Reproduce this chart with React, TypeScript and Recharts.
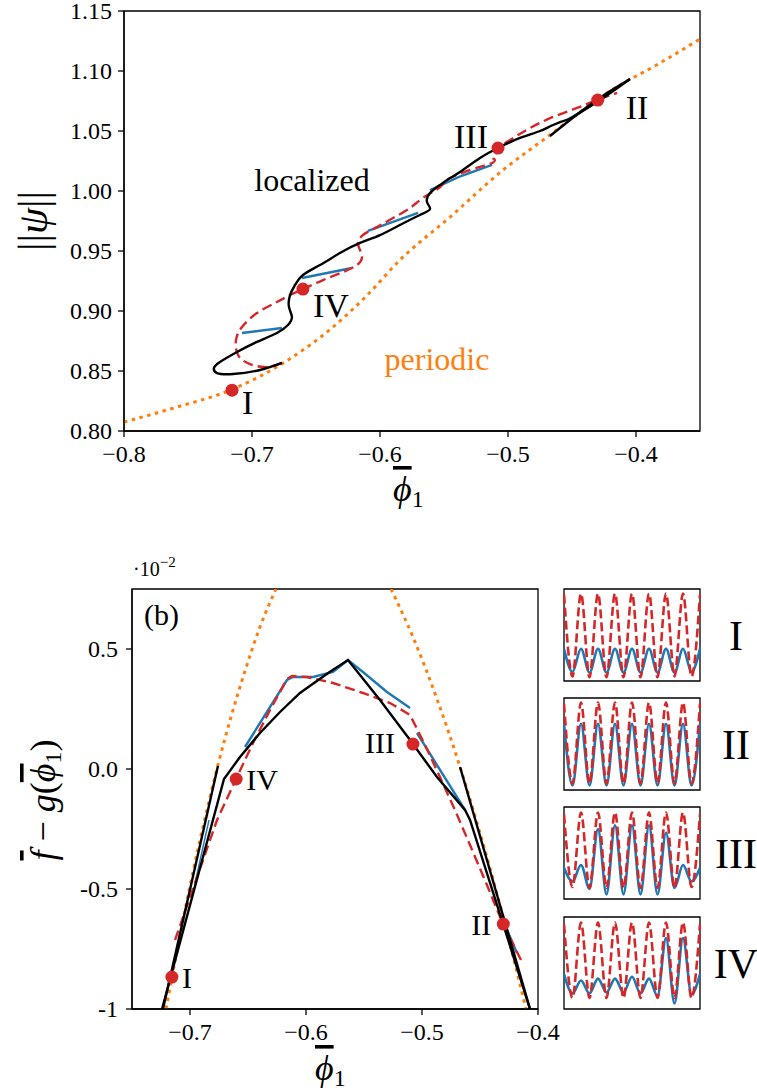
import React from 'react';
import { ComposedChart, LineChart, Line, Scatter, XAxis, YAxis, ReferenceArea } from 'recharts';

const FONT = '"Liberation Serif", "DejaVu Serif", serif';
const RED = '#d62728';
const BLUE = '#1f77b4';
const ORANGE = '#ff7f0e';

// ---- top panel: ||psi|| vs mean phi_1 ----
const topXTicks = [-0.8, -0.7, -0.6, -0.5, -0.4];
const topXTickLabels = ['−0.8', '−0.7', '−0.6', '−0.5', '−0.4'];
const topYTicks = [0.8, 0.85, 0.9, 0.95, 1.0, 1.05, 1.1, 1.15];
const topYTickLabels = ['0.80', '0.85', '0.90', '0.95', '1.00', '1.05', '1.10', '1.15'];

const periodicTopX = [-0.8, -0.7617, -0.7148, -0.6758, -0.6367, -0.6102, -0.5844, -0.5453, -0.5039, -0.4672, -0.4383, -0.4125, -0.3867, -0.35];
const periodicTopY = [0.8075, 0.819, 0.835, 0.8565, 0.8867, 0.913, 0.9425, 0.9783, 1.0175, 1.0467, 1.07, 1.0883, 1.1033, 1.1267];

// localized branch, up to the cusp and back
const localizedTopX = [-0.6766, -0.6938, -0.7148, -0.7273, -0.7297, -0.725, -0.7117, -0.6961, -0.6805, -0.6719, -0.6688, -0.6711, -0.6703, -0.6664, -0.6602, -0.6469, -0.6313, -0.6156, -0.6, -0.5844, -0.5688, -0.5609, -0.5633, -0.5609, -0.5531, -0.5453, -0.5375, -0.5219, -0.5063, -0.4906, -0.475, -0.4648, -0.4539, -0.4492, -0.4281, -0.4047];
const localizedTopY = [0.8567, 0.8508, 0.8475, 0.8483, 0.8525, 0.8575, 0.8658, 0.8742, 0.8817, 0.8883, 0.895, 0.9033, 0.9133, 0.9217, 0.93, 0.9383, 0.9483, 0.9567, 0.9633, 0.9717, 0.98, 0.985, 0.9908, 0.9983, 1.005, 1.0108, 1.0158, 1.0275, 1.0367, 1.0442, 1.05, 1.055, 1.0592, 1.0617, 1.0758, 1.0933];
const cuspReturnX = [-0.4047, -0.4227, -0.4383, -0.4516, -0.4672];
const cuspReturnY = [1.0933, 1.0817, 1.07, 1.0592, 1.0458];

const unstableTopX = [-0.6766, -0.6883, -0.7016, -0.7109, -0.7125, -0.7078, -0.6961, -0.6805, -0.6703, -0.6602, -0.6445, -0.6289, -0.618, -0.6141, -0.6156, -0.6172, -0.6133, -0.6023, -0.5898, -0.5766, -0.5664, -0.5531, -0.5477, -0.5297, -0.5125, -0.5109, -0.5117, -0.5086, -0.5078, -0.4984, -0.4828, -0.4648, -0.4461, -0.4305, -0.4148];
const unstableTopY = [0.8567, 0.8533, 0.8558, 0.8633, 0.8758, 0.8867, 0.8983, 0.9075, 0.9133, 0.9183, 0.9258, 0.9325, 0.9383, 0.9442, 0.9508, 0.9567, 0.9633, 0.97, 0.9775, 0.9858, 0.9942, 1.0033, 1.0092, 1.0175, 1.0233, 1.0267, 1.0283, 1.0325, 1.0358, 1.0425, 1.0525, 1.0617, 1.0692, 1.0758, 1.0817];

const bridgeTopX = [[-0.7078, -0.6766], [-0.6609, -0.6219], [-0.6094, -0.5703], [-0.5609, -0.5367, -0.5125], [-0.4539, -0.4305]];
const bridgeTopY = [[0.8817, 0.8858], [0.9275, 0.9358], [0.9667, 0.9817], [1.0008, 1.0125, 1.0217], [1.0592, 1.0742]];

// marked states (shared by both panels)
const stateNames = ['I', 'II', 'III', 'IV'];
const stateX = [-0.7156, -0.4299, -0.5078, -0.6602];
const stateNormY = [0.834, 1.0758, 1.0358, 0.9183];
const stateEnergyY = [-0.867, -0.646, 0.104, -0.0417];

// ---- bottom panel (b): f - g(phi_1), units of 1e-2 ----
const botXTicks = [-0.7, -0.6, -0.5, -0.4];
const botXTickLabels = ['−0.7', '−0.6', '−0.5', '−0.4'];
const botYTicks = [-1, -0.5, 0, 0.5];
const botYTickLabels = ['-1', '-0.5', '0.0', '0.5'];

const periodicLeftX = [-0.7207, -0.7, -0.6759, -0.6526, -0.6397, -0.6259];
const periodicLeftY = [-1.0, -0.4875, 0.0167, 0.4083, 0.5917, 0.75];
const periodicRightX = [-0.5267, -0.5078, -0.4871, -0.4672, -0.45, -0.4319, -0.4103];
const periodicRightY = [0.75, 0.55, 0.2917, 0.0083, -0.2667, -0.5833, -1.0];

const localizedBotX = [-0.7241, -0.6707, -0.6569, -0.6397, -0.6224, -0.6052, -0.594, -0.5793, -0.5638, -0.5362, -0.5103, -0.4871, -0.4629, -0.4586, -0.4302, -0.4069];
const localizedBotY = [-1.0, -0.0417, 0.05, 0.15, 0.2375, 0.3167, 0.355, 0.405, 0.4542, 0.2875, 0.1208, -0.0333, -0.1708, -0.2125, -0.644, -1.0];
const branchBotX = [[-0.6759, -0.7233], [-0.4672, -0.4069]];
const branchBotY = [[0.0125, -1.0], [0.0083, -1.0]];

const unstableBotX = [-0.7129, -0.6948, -0.6767, -0.6603, -0.6457, -0.631, -0.6164, -0.6121, -0.5991, -0.5767, -0.5509, -0.5276, -0.5103, -0.4974, -0.4845, -0.4716, -0.4586, -0.444, -0.4302, -0.4138];
const unstableBotY = [-0.7125, -0.4625, -0.2125, -0.0417, 0.1083, 0.2458, 0.375, 0.3875, 0.3833, 0.3583, 0.3167, 0.275, 0.225, 0.1, -0.0333, -0.1708, -0.3167, -0.4833, -0.6458, -0.8042];

const bridgeBotX = [[-0.6526, -0.6164, -0.6112, -0.594, -0.5767, -0.5638, -0.5509, -0.5302, -0.5103], [-0.5043, -0.4629], [-0.4267, -0.4181], [-0.6836, -0.6983]];
const bridgeBotY = [[0.0917, 0.3708, 0.3833, 0.3833, 0.4042, 0.4542, 0.4042, 0.3208, 0.2542], [0.15, -0.1708], [-0.6708, -0.7667], [-0.2125, -0.5333]];

// ---- profiles I-IV (extrema every half period) ----
const profileX = [0, 0.5, 1, 1.5, 2, 2.5, 3, 3.5, 4, 4.5, 5, 5.5, 6, 6.5, 7, 7.5, 8];
const profileRed = [
  [0.94, 0.05, 0.95, 0.04, 0.95, 0.04, 0.95, 0.04, 0.95, 0.04, 0.95, 0.04, 0.95, 0.05, 0.95, 0.05, 0.94],
  [0.94, 0.07, 0.95, 0.07, 0.95, 0.07, 0.95, 0.07, 0.95, 0.07, 0.95, 0.07, 0.95, 0.07, 0.95, 0.07, 0.94],
  [0.92, 0.13, 0.94, 0.12, 0.94, 0.12, 0.94, 0.12, 0.94, 0.12, 0.94, 0.12, 0.94, 0.12, 0.94, 0.13, 0.92],
  [0.92, 0.12, 0.94, 0.12, 0.94, 0.12, 0.94, 0.12, 0.94, 0.12, 0.94, 0.12, 0.94, 0.12, 0.94, 0.12, 0.92],
];
const profileBlue = [
  [0.35, 0.1, 0.35, 0.09, 0.35, 0.09, 0.35, 0.09, 0.35, 0.09, 0.35, 0.09, 0.35, 0.09, 0.35, 0.1, 0.35],
  [0.72, 0.05, 0.72, 0.05, 0.72, 0.05, 0.72, 0.05, 0.72, 0.05, 0.72, 0.05, 0.72, 0.05, 0.72, 0.05, 0.72],
  [0.34, 0.19, 0.37, 0.11, 0.76, 0.05, 0.8, 0.05, 0.8, 0.05, 0.8, 0.05, 0.72, 0.12, 0.37, 0.19, 0.34],
  [0.38, 0.17, 0.31, 0.17, 0.33, 0.18, 0.33, 0.18, 0.35, 0.17, 0.33, 0.14, 0.77, 0.06, 0.77, 0.16, 0.38],
];

const zip = (xs: number[], ys: number[]) => xs.map((x, i) => ({ x, y: ys[i] }));
const states = (ys: number[]) => stateNames.map((name, i) => ({ name, x: stateX[i], y: ys[i] }));
const lookup = (ticks: number[], labels: string[], v: number) => {
  const i = ticks.findIndex(t => Math.abs(t - v) < 1e-9);
  return i >= 0 ? labels[i] : '';
};

// serif tick labels, drawn by hand so the font sticks
const xTick = (ticks: number[], labels: string[]) => (p: any) => (
  <text x={p.x} y={p.y} dy="0.71em" textAnchor="middle" fontSize={24} fontFamily={FONT} fill="#000">
    {lookup(ticks, labels, p.payload.value)}
  </text>
);
const yTick = (ticks: number[], labels: string[]) => (p: any) => (
  <text x={p.x} y={p.y} dy="0.34em" textAnchor="end" fontSize={24} fontFamily={FONT} fill="#000">
    {lookup(ticks, labels, p.payload.value)}
  </text>
);

// label placement next to each red dot: [dx, dy, anchor]
const topLabelPos: Record<string, [number, number, string]> = {
  I: [10, 24, 'start'], II: [28, 19, 'start'], III: [-10, 0, 'end'], IV: [10, 28, 'start'],
};
const botLabelPos: Record<string, [number, number, string]> = {
  I: [10, 11, 'start'], II: [-12, 11, 'end'], III: [-18, 9, 'end'], IV: [10, 11, 'start'],
};

const stateShape = (pos: Record<string, [number, number, string]>, size: number) => (props: any) => {
  const { cx, cy, payload } = props;
  const [dx, dy, anchor] = pos[payload.name];
  return (
    <g>
      <circle cx={cx} cy={cy} r={6.5} fill={RED} />
      <text x={cx + dx} y={cy + dy} textAnchor={anchor as any} fontSize={size} fontFamily={FONT} fill="#000">
        {payload.name}
      </text>
    </g>
  );
};

const axisLine = { stroke: '#000', strokeWidth: 1.3 };
const bar = { textDecoration: 'overline' };

const TopChart = () => (
  <ComposedChart width={757} height={520} margin={{ top: 11, right: 57, bottom: 0, left: 0 }}>
    <XAxis type="number" dataKey="x" domain={[-0.8, -0.35]} allowDataOverflow ticks={topXTicks}
      height={89} tick={xTick(topXTicks, topXTickLabels)} tickMargin={8}
      axisLine={axisLine} tickLine={axisLine} />
    <YAxis type="number" dataKey="y" domain={[0.8, 1.15]} allowDataOverflow ticks={topYTicks}
      width={124} tick={yTick(topYTicks, topYTickLabels)} tickMargin={6}
      axisLine={axisLine} tickLine={axisLine} />
    <Line data={zip(periodicTopX, periodicTopY)} dataKey="y" type="monotone" stroke={ORANGE} strokeWidth={3}
      strokeDasharray="3.5 4.5" dot={false} isAnimationActive={false} />
    {bridgeTopX.map((xs, i) => (
      <Line key={'bt' + i} data={zip(xs, bridgeTopY[i])} dataKey="y" type="linear" stroke={BLUE} strokeWidth={2.4}
        dot={false} isAnimationActive={false} />
    ))}
    <Line data={zip(unstableTopX, unstableTopY)} dataKey="y" type="natural" stroke={RED} strokeWidth={2.4}
      strokeDasharray="10 5" dot={false} isAnimationActive={false} />
    <Line data={zip(localizedTopX, localizedTopY)} dataKey="y" type="natural" stroke="#000" strokeWidth={2.4}
      dot={false} isAnimationActive={false} />
    <Line data={zip(cuspReturnX, cuspReturnY)} dataKey="y" type="linear" stroke="#000" strokeWidth={2.4}
      dot={false} isAnimationActive={false} />
    <ReferenceArea x1={-0.8} x2={-0.35} y1={0.8} y2={1.15} fill="none" stroke="#000" strokeWidth={1.3} />
    <Scatter data={states(stateNormY)} shape={stateShape(topLabelPos, 34)} isAnimationActive={false} />
  </ComposedChart>
);

const BottomChart = () => (
  <ComposedChart width={560} height={552} margin={{ top: 49, right: 22, bottom: 0, left: 0 }}>
    <XAxis type="number" dataKey="x" domain={[-0.75, -0.4]} allowDataOverflow ticks={botXTicks}
      height={83} tick={xTick(botXTicks, botXTickLabels)} tickMargin={8}
      axisLine={axisLine} tickLine={axisLine} />
    <YAxis type="number" dataKey="y" domain={[-1, 0.75]} allowDataOverflow ticks={botYTicks}
      width={132} tick={yTick(botYTicks, botYTickLabels)} tickMargin={8}
      axisLine={axisLine} tickLine={axisLine} />
    <Line data={zip(periodicLeftX, periodicLeftY)} dataKey="y" type="monotone" stroke={ORANGE} strokeWidth={3}
      strokeDasharray="3.5 4.5" dot={false} isAnimationActive={false} />
    <Line data={zip(periodicRightX, periodicRightY)} dataKey="y" type="monotone" stroke={ORANGE} strokeWidth={3}
      strokeDasharray="3.5 4.5" dot={false} isAnimationActive={false} />
    {bridgeBotX.map((xs, i) => (
      <Line key={'bb' + i} data={zip(xs, bridgeBotY[i])} dataKey="y" type="linear" stroke={BLUE}
        strokeWidth={i === 3 ? 1.4 : 2.4} dot={false} isAnimationActive={false} />
    ))}
    <Line data={zip(unstableBotX, unstableBotY)} dataKey="y" type="linear" stroke={RED} strokeWidth={2.4}
      strokeDasharray="10 5" dot={false} isAnimationActive={false} />
    {branchBotX.map((xs, i) => (
      <Line key={'kb' + i} data={zip(xs, branchBotY[i])} dataKey="y" type="linear" stroke="#000" strokeWidth={2.4}
        dot={false} isAnimationActive={false} />
    ))}
    <Line data={zip(localizedBotX, localizedBotY)} dataKey="y" type="linear" stroke="#000" strokeWidth={2.4}
      dot={false} isAnimationActive={false} />
    <ReferenceArea x1={-0.75} x2={-0.4} y1={-1} y2={0.75} fill="none" stroke="#000" strokeWidth={1.3} />
    <Scatter data={states(stateEnergyY)} shape={stateShape(botLabelPos, 30)} isAnimationActive={false} />
  </ComposedChart>
);

const Profile = ({ idx }: { idx: number }) => (
  <LineChart width={138} height={94} margin={{ top: 1, right: 1, bottom: 1, left: 1 }}>
    <XAxis type="number" dataKey="x" domain={[0, 8]} hide />
    <YAxis type="number" dataKey="y" domain={[0, 1]} hide allowDataOverflow />
    <Line data={zip(profileX, profileBlue[idx])} dataKey="y" type="monotone" stroke={BLUE} strokeWidth={2.6}
      dot={false} isAnimationActive={false} />
    <Line data={zip(profileX, profileRed[idx])} dataKey="y" type="monotone" stroke={RED} strokeWidth={2.6}
      strokeDasharray="9 4" dot={false} isAnimationActive={false} />
    <ReferenceArea x1={0} x2={8} y1={0} y2={1} fill="none" stroke="#000" strokeWidth={1.3} />
  </LineChart>
);

const profileTops = [588, 697, 806, 916];

export default function App() {
  return (
    <div style={{ position: 'absolute', left: 0, top: 0, width: 757, height: 1092, background: '#fff', fontFamily: FONT }}>
      <div style={{ position: 'absolute', left: 0, top: 0 }}>
        <TopChart />
      </div>
      <div style={{ position: 'absolute', left: 0, top: 540 }}>
        <BottomChart />
      </div>
      {profileTops.map((t, i) => (
        <div key={i} style={{ position: 'absolute', left: 563, top: t }}>
          <Profile idx={i} />
        </div>
      ))}
      <svg width={757} height={1092} style={{ position: 'absolute', left: 0, top: 0, pointerEvents: 'none' }}
        fontFamily={FONT}>
        <text transform="translate(47,221) rotate(-90)" textAnchor="middle" fontSize={42} fill="#000">
          ||<tspan fontStyle="italic">ψ</tspan>||
        </text>
        <text x={393} y={501} fontSize={36} fill="#000">
          <tspan fontStyle="italic" style={bar}>ϕ</tspan><tspan fontSize={24} dy={6}>1</tspan>
        </text>
        <text x={312} y={191} textAnchor="middle" fontSize={32} fill="#000">localized</text>
        <text x={437} y={370} textAnchor="middle" fontSize={32} fill={ORANGE}>periodic</text>

        <text x={133} y={576} fontSize={20} fill="#000">
          ·10<tspan fontSize={15} dy={-9}>−2</tspan>
        </text>
        <text x={144} y={625} fontSize={30} fill="#000">(b)</text>
        <text transform="translate(55,800) rotate(-90)" textAnchor="middle" fontSize={36} fill="#000">
          <tspan fontStyle="italic" style={bar}>f</tspan> − <tspan fontStyle="italic">g</tspan>(<tspan fontStyle="italic" style={bar}>ϕ</tspan><tspan fontSize={24} dy={6}>1</tspan><tspan dy={-6}>)</tspan>
        </text>
        <text x={315} y={1080} fontSize={36} fill="#000">
          <tspan fontStyle="italic" style={bar}>ϕ</tspan><tspan fontSize={24} dy={6}>1</tspan>
        </text>

        {stateNames.map((n, i) => (
          <text key={n} x={736} y={profileTops[i] + 47 + 15} textAnchor="middle" fontSize={42} fill="#000">{n}</text>
        ))}
      </svg>
    </div>
  );
}
